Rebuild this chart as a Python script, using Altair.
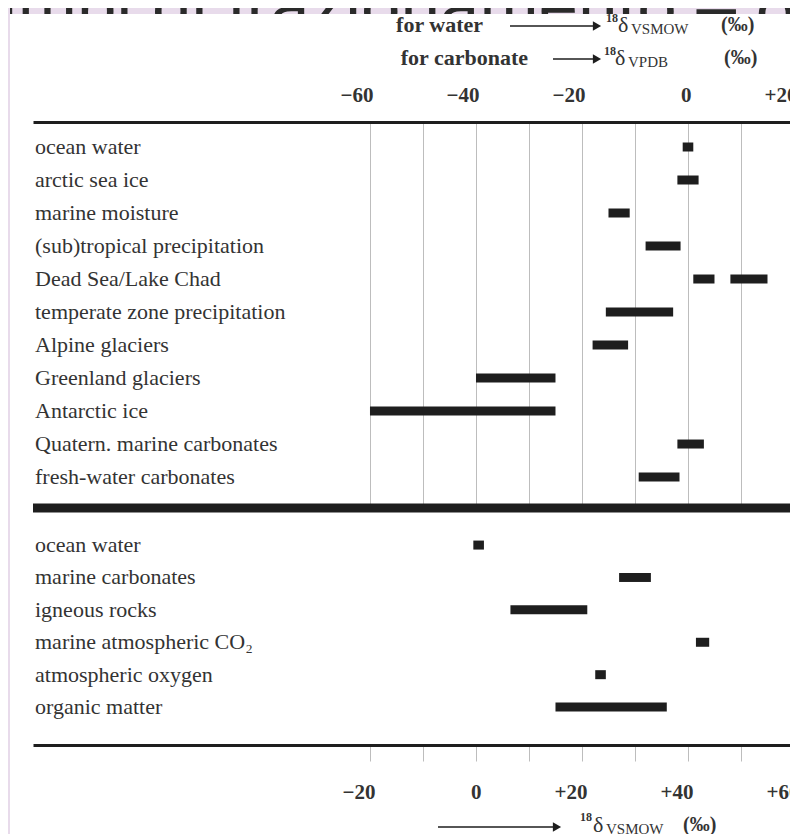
import altair as alt
import pandas as pd

# ---------------- data ----------------
top_categories = [
    "ocean water", "arctic sea ice", "marine moisture",
    "(sub)tropical precipitation", "Dead Sea/Lake Chad",
    "temperate zone precipitation", "Alpine glaciers", "Greenland glaciers",
    "Antarctic ice", "Quatern. marine carbonates", "fresh-water carbonates",
]
# one entry per bar (Dead Sea/Lake Chad has two ranges)
top_rows = [
    "ocean water", "arctic sea ice", "marine moisture",
    "(sub)tropical precipitation", "Dead Sea/Lake Chad", "Dead Sea/Lake Chad",
    "temperate zone precipitation", "Alpine glaciers", "Greenland glaciers",
    "Antarctic ice", "Quatern. marine carbonates", "fresh-water carbonates",
]
top_low = [-1, -2, -15, -8, 1, 8, -15.5, -18, -40, -60, -2, -9.3]
top_high = [1, 2, -11, -1.4, 5, 15, -2.8, -11.3, -25, -25, 3, -1.6]

bottom_categories = [
    "ocean water", "marine carbonates", "igneous rocks",
    "marine atmospheric CO\u2082", "atmospheric oxygen", "organic matter",
]
bottom_low = [-0.5, 27, 6.5, 41.5, 22.5, 15]
bottom_high = [1.5, 33, 21, 44, 24.5, 36]

top_ticks = [-60, -50, -40, -30, -20, -10, 0, 10, 20]
bottom_ticks = [-20, -10, 0, 10, 20, 30, 40, 50, 60]

# ---------------- styling ----------------
W, H = 762, 623
SEP = 386
SERIF = "Liberation Serif"
SANS = "Liberation Sans"
INK = "#1e1e1e"
TXT = "#333333"
GRID = "#bdbdbd"
LAV = "#e8dbeb"

label_expr = ("datum.value % 20 != 0 ? '' : (datum.value > 0 ? '+' + datum.value : "
              "(datum.value < 0 ? '\u2212' + abs(datum.value) : '0'))")

top_df = pd.DataFrame({"category": top_rows, "low": top_low, "high": top_high})
top_lab = pd.DataFrame({"category": top_categories})
bot_df = pd.DataFrame({"category": bottom_categories, "low": bottom_low, "high": bottom_high})
bot_lab = pd.DataFrame({"category": bottom_categories})
one = pd.DataFrame({"k": [0]})

y_top_scale = alt.Scale(type="band", domain=top_categories, range=[0, SEP],
                        paddingInner=0, paddingOuter=0.348, align=0.37)
y_bot_scale = alt.Scale(type="band", domain=bottom_categories, range=[SEP, H],
                        paddingInner=0, paddingOuter=0.657, align=0.49)

x_top = alt.X(
    "low:Q",
    scale=alt.Scale(domain=[-123.58, 20.19], nice=False, zero=False),
    axis=alt.Axis(orient="top", values=top_ticks, labelExpr=label_expr, title=None,
                  grid=True, gridColor=GRID, gridWidth=1, ticks=False, tickSize=0,
                  domainWidth=3, domainColor=INK, labelFont=SERIF, labelFontSize=21,
                  labelFontWeight="bold", labelColor=TXT, labelPadding=17,
                  labelAlign="right", labelOffset=3, labelFlush=False, labelOverlap=False),
)
x_bot = alt.X(
    "low:Q",
    scale=alt.Scale(domain=[-83.58, 60.19], nice=False, zero=False),
    axis=alt.Axis(orient="bottom", values=bottom_ticks, labelExpr=label_expr, title=None,
                  grid=False, ticks=True, tickSize=16, tickColor=GRID, tickWidth=1,
                  domainWidth=3, domainColor=INK, labelFont=SERIF, labelFontSize=21,
                  labelFontWeight="bold", labelColor=TXT, labelPadding=20,
                  labelAlign="right", labelOffset=5, labelFlush=False, labelOverlap=False),
)

top_bars = alt.Chart(top_df).mark_bar(color=INK, height=9).encode(
    x=x_top, x2="high:Q",
    y=alt.Y("category:N", scale=y_top_scale, axis=None),
)
top_text = alt.Chart(top_lab).mark_text(
    align="left", baseline="middle", font=SERIF, fontSize=22, color=TXT
).encode(x=alt.value(2), y=alt.Y("category:N", scale=y_top_scale, axis=None),
         text="category:N")

bot_bars = alt.Chart(bot_df).mark_bar(color=INK, height=9).encode(
    x=x_bot, x2="high:Q",
    y=alt.Y("category:N", scale=y_bot_scale, axis=None),
)
bot_text = alt.Chart(bot_lab).mark_text(
    align="left", baseline="middle", font=SERIF, fontSize=22, color=TXT
).encode(x=alt.value(2), y=alt.Y("category:N", scale=y_bot_scale, axis=None),
         text="category:N")


def txt(s, x, y, size, weight="normal", align="left", font=SERIF, color=TXT,
        baseline="middle"):
    return alt.Chart(one).mark_text(
        text=s, align=align, baseline=baseline, font=font, fontSize=size,
        fontWeight=weight, color=color,
    ).encode(x=alt.value(x), y=alt.value(y))


def rect(x1, x2, y1, y2, color):
    return alt.Chart(one).mark_rect(color=color).encode(
        x=alt.value(x1), x2=alt.value(x2), y=alt.value(y1), y2=alt.value(y2))


def arrow(x1, x2, y):
    line = alt.Chart(one).mark_rule(color=INK, strokeWidth=1.6).encode(
        x=alt.value(x1), x2=alt.value(x2), y=alt.value(y))
    head = alt.Chart(one).mark_point(shape="triangle-right", filled=True, size=90,
                                     color=INK, opacity=1).encode(
        x=alt.value(x2 + 4), y=alt.value(y))
    return [line, head]


annotations = [
    rect(-25, W, -114, -108, LAV),
    txt("Campi di frazionamento \u2013 \u03b4\u00b9\u2078O", -106, -92, 71,
        font=SANS, color="#2a2a2a", baseline="alphabetic"),
    rect(-23, W, -108, -70, "white"),
    rect(-25, -23, -114, 712, LAV),
    # header line 1
    txt("for water", 450, -97, 22, weight="bold", align="right"),
    *arrow(477, 560, -96),
    txt("18", 573, -104, 12, weight="bold"),
    txt("\u03b4", 585, -97, 22),
    txt("VSMOW", 598, -93, 15),
    txt("(\u2030)", 688, -97, 20, weight="bold"),
    # header line 2
    txt("for carbonate", 495, -64, 22, weight="bold", align="right"),
    *arrow(520, 560, -63),
    txt("18", 571, -71, 12, weight="bold"),
    txt("\u03b4", 582, -64, 22),
    txt("VPDB", 595, -60, 15),
    txt("(\u2030)", 691, -64, 20, weight="bold"),
    # separator between the two sections
    alt.Chart(one).mark_rule(color=INK, strokeWidth=9).encode(
        x=alt.value(0), x2=alt.value(W), y=alt.value(SEP)),
    # bottom axis title
    *arrow(405, 520, 705),
    txt("18", 547, 695, 12, weight="bold"),
    txt("\u03b4", 560, 703, 22),
    txt("VSMOW", 573, 707, 15),
    txt("(\u2030)", 650, 703, 20, weight="bold"),
]

top_layer = alt.layer(top_bars, top_text)
bot_layer = alt.layer(bot_bars, bot_text)
annot_layer = alt.layer(*annotations)

chart = alt.layer(top_layer, bot_layer, annot_layer).resolve_scale(
    x="independent", y="independent"
).properties(
    width=W, height=H,
    autosize=alt.AutoSizeParams(type="none"),
    padding={"left": 25, "top": 114, "right": -5, "bottom": 89},
    background="white",
).configure_view(stroke=None)

chart.save("out.html", embed_options={"renderer": "svg", "actions": False})
